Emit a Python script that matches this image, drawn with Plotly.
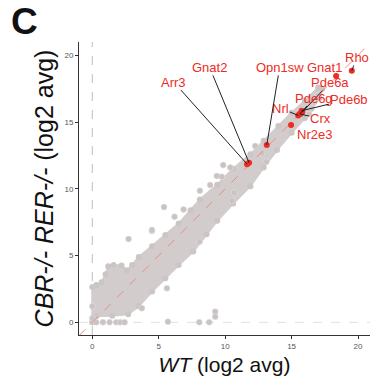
import plotly.graph_objects as go

# ---- data ----
# outline of the dense cloud of genes (WT vs CBR-/- RER-/-), upper edge then lower edge
cloud_x = [0.0, 0.0, 0.3, 0.7, 1.0, 1.2, 1.6, 2.2, 2.6, 3.0, 3.5, 4.5, 5.5, 6.5, 7.4, 8.1, 9.4, 10.6,
           11.9, 12.9, 14.0, 15.0, 16.0, 17.0, 17.3,
           17.1, 16.0, 15.0, 13.9, 12.9, 11.9, 10.6, 9.4, 8.6, 7.6, 6.5, 5.5, 4.5, 3.5, 2.7, 1.5, 0.3, 0.0]
cloud_y = [0.0, 2.65, 2.8, 3.0, 3.6, 4.2, 4.3, 4.25, 3.9, 4.3, 4.9, 5.7, 6.55, 7.4, 8.4, 9.2, 10.3, 11.5,
           12.6, 13.6, 14.7, 15.7, 16.6, 17.6, 17.5,
           16.8, 15.3, 14.2, 12.9, 11.6, 10.2, 8.9, 7.6, 6.6, 5.3, 4.3, 3.3, 2.3, 1.2, 0.6, 0.5, 0.45, 0.0]

# scattered genes outside the dense cloud
out_x = [0.3, 0.8, 1.3, 1.8, 2.1, 2.43, 5.69, 8.05, 8.8, 9.25, 9.25, 2.73, 4.49, 5.62, 3.73,
         5.4, 6.87, 6.19, 8.1, 8.87, 9.37, 9.75, 10.5, 10.68, 9.85, 10.38, 12.26, 12.76, 13.1,
         8.07, 4.49, 16.5, 17.0, 16.3, 0.0, 0.0]
out_y = [0.0, 0.0, 0.0, 0.0, 0.0, 0.0, 0.05, 0.0, 0.0, 0.8, 0.42, 6.24, 6.84, 2.55, 1.05,
         8.63, 8.46, 7.91, 9.86, 10.28, 10.96, 10.9, 9.1, 9.7, 11.78, 11.6, 13.2, 12.66, 12.03,
         6.04, 6.91, 16.0, 17.0, 15.6, 0.3, 1.2]

# highlighted photoreceptor genes
genes = ["Rho", "Gnat1", "Pde6a", "Pde6g", "Pde6b", "Nrl", "Crx", "Nr2e3", "Opn1sw", "Gnat2", "Arr3"]
gene_wt = [19.53, 18.35, 15.8, 15.6, 15.75, 15.5, 15.65, 14.96, 13.13, 11.8, 11.65]
gene_ko = [18.85, 18.45, 15.75, 15.6, 15.85, 15.5, 15.6, 14.78, 13.28, 11.95, 11.85]
# label positions (data coordinates) and whether a connector segment is drawn
label_wt = [19.9, 17.5, 17.9, 16.7, 19.3, 14.2, 17.14, 16.73, 14.1, 8.83, 6.13]
label_ko = [19.84, 19.1, 17.96, 16.8, 16.7, 16.03, 15.27, 14.1, 19.1, 19.1, 18.0]
label_seg = [True, False, True, True, True, True, True, False, True, True, True]

x_ticks = [0, 5, 10, 15, 20]
y_ticks = [0, 5, 10, 15, 20]
x_range = [-1.0, 20.9]
y_range = [-0.95, 21.0]

RED = "#ee2b24"
GREY = "#d2cccc"
FONT = "Liberation Sans, Arial, sans-serif"

fig = go.Figure()

# reference lines
fig.add_trace(go.Scatter(x=[0, 0], y=y_range, mode="lines",
                         line=dict(color="#bdbdbd", width=1, dash="dash"), hoverinfo="skip", showlegend=False))
fig.add_trace(go.Scatter(x=x_range, y=[0, 0], mode="lines",
                         line=dict(color="#e0e0e0", width=1, dash="dash"), hoverinfo="skip", showlegend=False))

# dense cloud
fig.add_trace(go.Scatter(x=cloud_x, y=cloud_y, mode="lines+markers", fill="toself",
                         fillcolor=GREY, line=dict(color=GREY, width=2),
                         marker=dict(size=6, color="#cbc5c5"), hoverinfo="skip", showlegend=False))
# scattered genes
fig.add_trace(go.Scatter(x=out_x, y=out_y, mode="markers",
                         marker=dict(size=6, color="#c9c3c3", line=dict(color="#e6e0e0", width=0.5)),
                         showlegend=False))

# identity line
fig.add_trace(go.Scatter(x=[x_range[0], 21.0], y=[x_range[0], 21.0], mode="lines",
                         line=dict(color="#f08a86", width=1, dash="dash"), hoverinfo="skip", showlegend=False))

# highlighted genes
fig.add_trace(go.Scatter(x=gene_wt, y=gene_ko, mode="markers", text=genes,
                         marker=dict(size=6, color=RED), showlegend=False))

annotations = []
for g, x, y, lx, ly, seg in zip(genes, gene_wt, gene_ko, label_wt, label_ko, label_seg):
    if seg:
        annotations.append(dict(
            x=x, y=y, xref="x", yref="y", ax=lx, ay=ly, axref="x", ayref="y",
            text=g, showarrow=True, arrowhead=0, arrowwidth=1, arrowcolor="#222222",
            standoff=0, startstandoff=0, borderpad=0,
            font=dict(family=FONT, size=13, color=RED)))
    else:
        annotations.append(dict(
            x=lx, y=ly, xref="x", yref="y", text=g, showarrow=False, borderpad=0,
            font=dict(family=FONT, size=13, color=RED)))

annotations.append(dict(x=-0.187, y=1.07, xref="paper", yref="paper", xanchor="center", yanchor="middle",
                        text="<b>C</b>", showarrow=False,
                        font=dict(family=FONT, size=37, color="#111111")))

fig.update_layout(
    width=371, height=378,
    margin=dict(l=79, r=1, t=42, b=43),
    paper_bgcolor="white", plot_bgcolor="white",
    font=dict(family=FONT),
    annotations=annotations,
    xaxis=dict(range=x_range, tickvals=x_ticks, showgrid=False, zeroline=False,
               showline=True, linecolor="#333333", linewidth=1,
               ticks="outside", ticklen=3, tickcolor="#333333",
               tickfont=dict(size=8, color="#555555"),
               title=dict(text="<i>WT</i> (log2 avg)", font=dict(size=21, color="#111111"), standoff=7)),
    yaxis=dict(range=y_range, tickvals=y_ticks, showgrid=False, zeroline=False,
               showline=True, linecolor="#333333", linewidth=1,
               ticks="outside", ticklen=3, tickcolor="#333333",
               tickfont=dict(size=8, color="#555555"),
               title=dict(text="<i>CBR-/- RER-/-</i> (log2 avg)", font=dict(size=25, color="#111111"), standoff=3)),
)

fig.write_html("out.html", config={"displayModeBar": False},
               post_script="document.body.style.margin='0';document.body.style.padding='0';")
